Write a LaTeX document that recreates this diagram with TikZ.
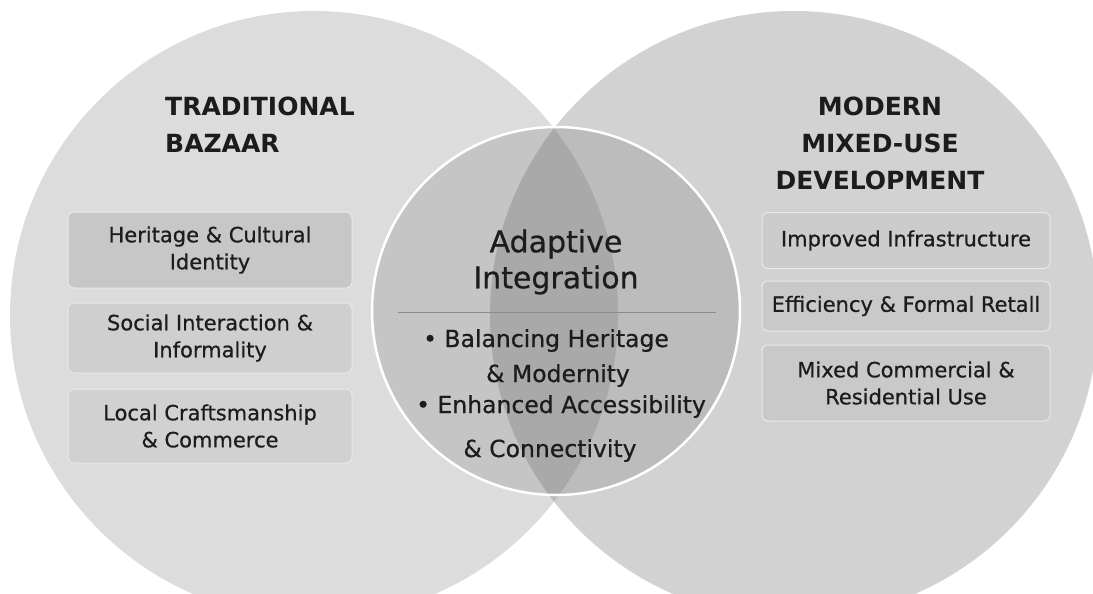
\documentclass[tikz,border=0pt]{standalone}
\usepackage{fontspec}
\setmainfont{DejaVu Sans}
\newfontfamily\mediumface{DejaVu Sans}[FakeBold=0.6]
\definecolor{ink}{HTML}{1C1C1C}
\definecolor{leftfill}{HTML}{DCDCDC}
\definecolor{rightfill}{HTML}{D2D2D2}
\definecolor{lensfill}{HTML}{BDBDBD}
\definecolor{boxedge}{HTML}{E9E9E9}
\begin{document}
\begin{tikzpicture}[x=1pt,y=-1pt,
  heading/.style={text=ink, font=\fontsize{25}{37}\selectfont\bfseries, inner sep=0},
  itembox/.style={draw=boxedge, line width=1pt, rounded corners=6pt, inner sep=0,
    text=ink, align=center, font=\mediumface\fontsize{21}{27}\selectfont},
  lbox/.style={itembox, minimum width=284pt},
  rbox/.style={itembox, minimum width=288pt},
  core/.style={text=ink, font=\mediumface\fontsize{30}{36}\selectfont, align=center, inner sep=0},
  bullet/.style={text=ink, font=\mediumface\fontsize{23.5}{28}\selectfont, inner sep=0, anchor=base}]
\useasboundingbox (0,0) rectangle (1093,594);

% the two overlapping sets and their shared lens
\fill[leftfill] (314,315) circle (304pt);
\fill[rightfill] (794,315) circle (304pt);
\begin{scope}
  \clip (314,315) circle (304pt);
  \fill[lensfill] (794,315) circle (304pt);
\end{scope}

% central integration circle
\fill[black, opacity=0.1] (556,311) circle (184pt);
\draw[white, line width=2.5pt] (556,311) circle (184pt);

% set headings
\node[heading, anchor=north west, align=left] (trad) at (165,97) {TRADITIONAL\\BAZAAR};
\node[heading, anchor=north, align=center] (modern) at (880,97) {MODERN\\MIXED-USE\\DEVELOPMENT};

% traditional bazaar qualities
\node[lbox, fill=black!22, minimum height=76pt] (heritage) at (210,250) {Heritage \& Cultural\\Identity};
\node[lbox, fill=black!19, minimum height=70pt] (social) at (210,338) {Social Interaction \&\\Informality};
\node[lbox, fill=black!18, minimum height=74pt] (craft) at (210,426) {Local Craftsmanship\\\& Commerce};

% modern development qualities
\node[rbox, fill=black!20, minimum height=56pt] (infra) at (906,240.5) {Improved Infrastructure};
\node[rbox, fill=black!21, minimum height=50pt] (retail) at (906,306) {Efficiency \& Formal Retall};
\node[rbox, fill=black!21, minimum height=76pt] (mixed) at (906,383) {Mixed Commercial \&\\Residential Use};

% integration content
\node[core] (adaptive) at (556,262) {Adaptive\\Integration};
\coordinate (divl) at (398,312);
\coordinate (divr) at (716,312);
\draw[black!45, line width=0.8pt] (divl) -- (divr);
\node[bullet] (b1) at (546,347) {• Balancing Heritage};
\node[bullet] (b1b) at (558,382) {\& Modernity};
\node[bullet] (b2) at (561,413) {• Enhanced Accessibility};
\node[bullet] (b2b) at (550,457) {\& Connectivity};
\end{tikzpicture}
\end{document}
